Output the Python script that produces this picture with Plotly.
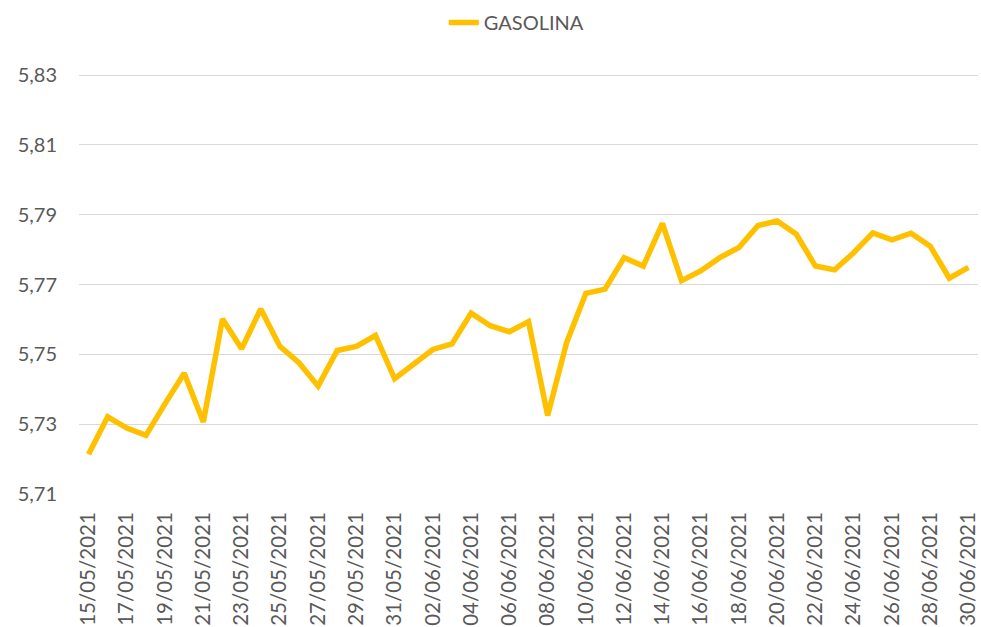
import plotly.graph_objects as go

dates = [
    "15/05/2021", "16/05/2021", "17/05/2021", "18/05/2021", "19/05/2021", "20/05/2021",
    "21/05/2021", "22/05/2021", "23/05/2021", "24/05/2021", "25/05/2021", "26/05/2021",
    "27/05/2021", "28/05/2021", "29/05/2021", "30/05/2021", "31/05/2021", "01/06/2021",
    "02/06/2021", "03/06/2021", "04/06/2021", "05/06/2021", "06/06/2021", "07/06/2021",
    "08/06/2021", "09/06/2021", "10/06/2021", "11/06/2021", "12/06/2021", "13/06/2021",
    "14/06/2021", "15/06/2021", "16/06/2021", "17/06/2021", "18/06/2021", "19/06/2021",
    "20/06/2021", "21/06/2021", "22/06/2021", "23/06/2021", "24/06/2021", "25/06/2021",
    "26/06/2021", "27/06/2021", "28/06/2021", "29/06/2021", "30/06/2021",
]

gasolina = [
    5.7214, 5.7321, 5.7289, 5.7268, 5.7359, 5.7446,
    5.7306, 5.7601, 5.7516, 5.7630, 5.7523, 5.7476,
    5.7409, 5.7511, 5.7523, 5.7554, 5.7430, 5.7473,
    5.7514, 5.7530, 5.7618, 5.7582, 5.7565, 5.7594,
    5.7325, 5.7535, 5.7675, 5.7687, 5.7777, 5.7753,
    5.7875, 5.7711, 5.7739, 5.7777, 5.7806, 5.7869,
    5.7882, 5.7844, 5.7753, 5.7742, 5.7791, 5.7848,
    5.7828, 5.7847, 5.7810, 5.7718, 5.7749,
]

y_ticks = [5.71, 5.73, 5.75, 5.77, 5.79, 5.81, 5.83]
x_ticks = dates[::2]

TEXT = "#595959"
FONT = "Lato"

fig = go.Figure()
fig.add_trace(go.Scatter(
    x=dates, y=gasolina, mode="lines", name="GASOLINA",
    line=dict(color="#FFC000", width=5.5),
))

fig.update_layout(
    width=981, height=627,
    margin=dict(l=79, r=3, t=71, b=133),
    paper_bgcolor="white", plot_bgcolor="white",
    separators=",.",
    font=dict(family=FONT, color=TEXT, size=20),
    showlegend=True,
    legend=dict(
        orientation="h", x=0.487, xanchor="center", y=1.12, yanchor="middle",
        font=dict(family=FONT, color=TEXT, size=20),
        bgcolor="rgba(0,0,0,0)",
    ),
    xaxis=dict(
        type="category", categoryorder="array", categoryarray=dates,
        range=[-0.5, len(dates) - 0.5],
        tickmode="array", tickvals=x_ticks, ticktext=x_ticks,
        tickangle=-90, ticks="outside", ticklen=9, tickcolor="rgba(0,0,0,0)",
        showgrid=False, showline=False, zeroline=False, automargin=False,
        tickfont=dict(family=FONT, color=TEXT, size=20.5),
    ),
    yaxis=dict(
        range=[5.71, 5.8306], tickmode="array", tickvals=y_ticks,
        tickformat=".2f",
        ticks="outside", ticklen=17, tickcolor="rgba(0,0,0,0)",
        showgrid=True, gridcolor="#D9D9D9", gridwidth=1.3,
        zeroline=False, showline=False, automargin=False,
        tickfont=dict(family=FONT, color=TEXT, size=20),
    ),
)

fig.write_html(
    "out.html",
    config={"displayModeBar": False},
    post_script="document.body.style.margin='0';document.body.style.padding='0';",
)
